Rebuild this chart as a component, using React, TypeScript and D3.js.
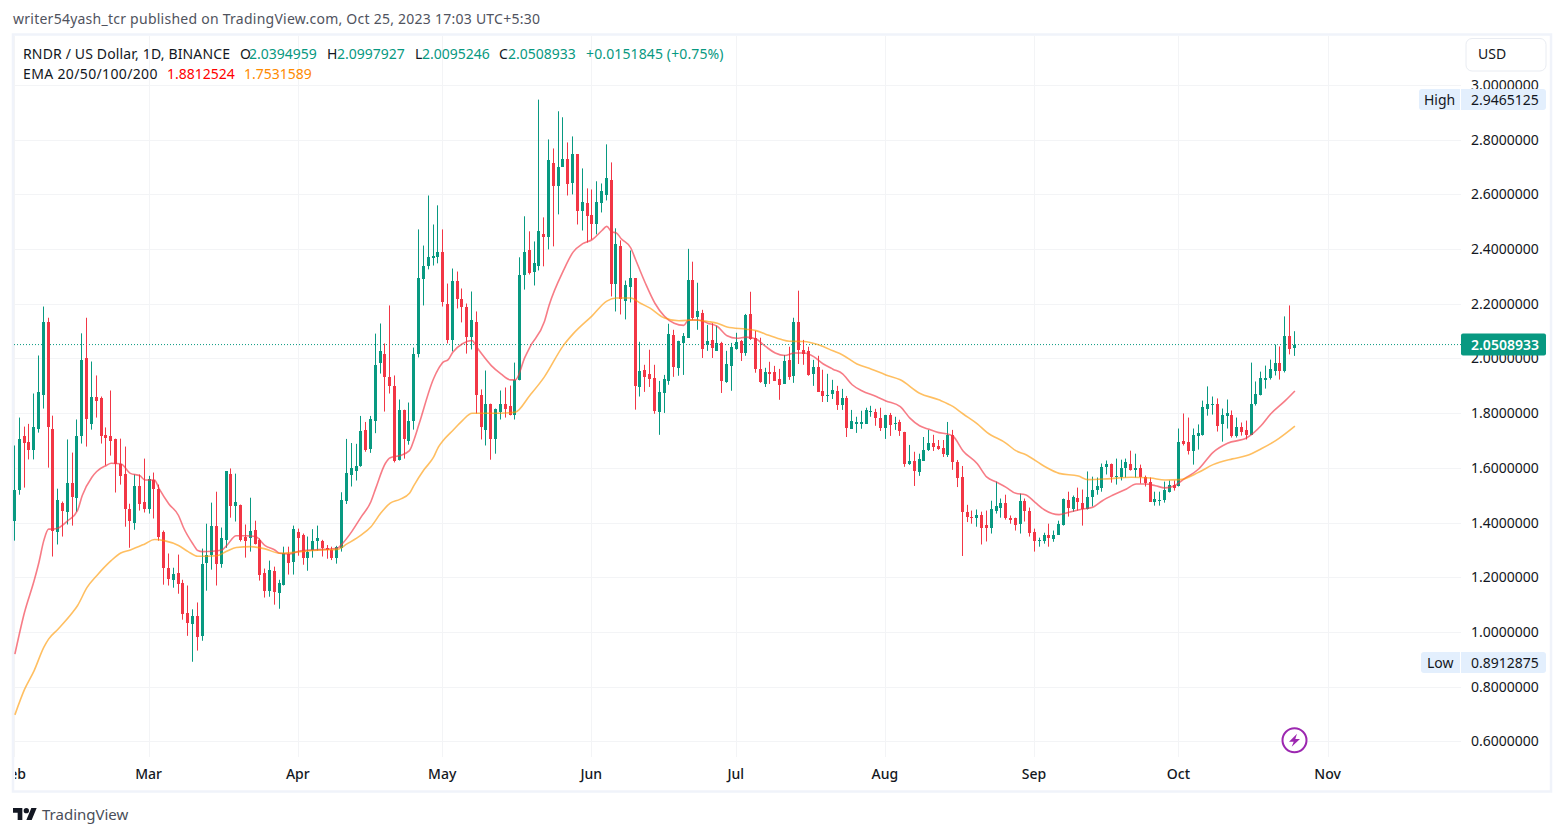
import React, { useEffect, useRef } from 'react';
import * as d3 from 'd3';

const width = 1564;
const height = 836;
const chartLeft = 14;
const chartRight = 1461;
const chartTop = 36;
const chartBottom = 757;
const FONT = '"Noto Sans", sans-serif';
const UP = '#089981';
const DOWN = '#F23645';

const firstDay = Date.UTC(2023, 1, 1);
const dayMs = 86400000;

// one value per daily candle, Feb 1 to Oct 25
const opens = [
  1.407, 1.521, 1.715, 1.696, 1.667, 1.744, 1.868, 2.135, 1.744, 1.367,
  1.473, 1.44, 1.546, 1.491, 1.715, 2.0, 1.759, 1.861, 1.854, 1.722,
  1.715, 1.704, 1.615, 1.576, 1.451, 1.4, 1.532, 1.477, 1.451, 1.554,
  1.524, 1.367, 1.235, 1.191, 1.217, 1.18, 1.071, 1.03, 1.06, 0.987,
  1.254, 1.283, 1.389, 1.25, 1.338, 1.576, 1.462, 1.466, 1.349, 1.342,
  1.374, 1.338, 1.217, 1.151, 1.224, 1.144, 1.173, 1.287, 1.257, 1.367,
  1.353, 1.272, 1.298, 1.331, 1.333, 1.306, 1.301, 1.272, 1.306, 1.479,
  1.574, 1.589, 1.607, 1.739, 1.67, 1.77, 1.982, 2.018, 1.934, 1.901,
  1.63, 1.813, 1.7, 1.77, 2.018, 2.289, 2.34, 2.366, 2.37, 2.391,
  2.201, 2.066, 2.282, 2.216, 2.187, 2.077, 2.132, 1.865, 1.737, 1.832,
  1.704, 1.806, 1.835, 1.828, 1.792, 1.92, 2.304, 2.395, 2.318, 2.34,
  2.457, 2.443, 2.713, 2.629, 2.702, 2.728, 2.64, 2.746, 2.541, 2.567,
  2.523, 2.49, 2.567, 2.596, 2.651, 2.274, 2.413, 2.212, 2.263, 2.293,
  1.895, 1.959, 1.944, 1.929, 1.805, 1.874, 1.918, 2.087, 1.966, 2.057,
  2.076, 2.288, 2.152, 2.167, 2.05, 2.068, 2.028, 2.057, 1.915, 1.973,
  2.035, 2.065, 2.021, 2.163, 2.076, 1.962, 1.907, 1.951, 1.951, 1.926,
  1.907, 1.995, 1.937, 2.134, 2.032, 2.028, 1.944, 1.97, 1.882, 1.863,
  1.871, 1.882, 1.83, 1.856, 1.743, 1.761, 1.761, 1.761, 1.805, 1.805,
  1.783, 1.746, 1.794, 1.761, 1.768, 1.732, 1.615, 1.626, 1.585, 1.626,
  1.666, 1.691, 1.68, 1.673, 1.648, 1.721, 1.622, 1.567, 1.439, 1.422,
  1.418, 1.429, 1.393, 1.382, 1.444, 1.455, 1.473, 1.418, 1.418, 1.396,
  1.48, 1.444, 1.367, 1.334, 1.334, 1.356, 1.341, 1.356, 1.393, 1.484,
  1.448, 1.491, 1.473, 1.448, 1.495, 1.521, 1.528, 1.605, 1.616, 1.565,
  1.568, 1.598, 1.616, 1.594, 1.601, 1.568, 1.55, 1.477, 1.48, 1.484,
  1.513, 1.539, 1.532, 1.7, 1.696, 1.663, 1.718, 1.722, 1.817, 1.832,
  1.832, 1.759, 1.791, 1.795, 1.718, 1.748, 1.737, 1.722, 1.835, 1.868,
  1.923, 1.927, 1.956, 1.982, 1.956, 2.084, 2.0394959,
];

const highs = [
  1.682, 1.784, 1.751, 1.761, 1.872, 2.011, 2.19, 2.149, 1.791, 1.524,
  1.477, 1.704, 1.656, 1.777, 2.092, 2.149, 1.989, 1.938, 1.861, 1.748,
  1.883, 1.707, 1.707, 1.678, 1.469, 1.576, 1.576, 1.634, 1.571, 1.583,
  1.539, 1.371, 1.287, 1.235, 1.283, 1.191, 1.17, 1.083, 1.108, 1.305,
  1.396, 1.473, 1.513, 1.382, 1.587, 1.598, 1.579, 1.466, 1.393, 1.491,
  1.407, 1.342, 1.232, 1.261, 1.239, 1.191, 1.312, 1.312, 1.389, 1.378,
  1.36, 1.349, 1.376, 1.389, 1.337, 1.318, 1.312, 1.315, 1.511, 1.706,
  1.691, 1.688, 1.79, 1.768, 1.79, 2.091, 2.128, 2.055, 2.194, 1.938,
  1.85, 1.813, 1.839, 2.04, 2.472, 2.413, 2.596, 2.49, 2.56, 2.472,
  2.274, 2.329, 2.318, 2.256, 2.201, 2.245, 2.172, 1.887, 1.956, 1.835,
  1.817, 1.883, 1.894, 1.901, 1.985, 2.37, 2.52, 2.465, 2.428, 2.9465125,
  2.516, 2.801, 2.768, 2.904, 2.882, 2.79, 2.812, 2.746, 2.695, 2.622,
  2.618, 2.648, 2.64, 2.783, 2.717, 2.476, 2.432, 2.285, 2.395, 2.293,
  2.061, 1.977, 2.032, 1.977, 1.918, 1.94, 2.127, 2.105, 2.065, 2.093,
  2.401, 2.354, 2.277, 2.178, 2.123, 2.129, 2.12, 2.061, 2.028, 2.057,
  2.094, 2.068, 2.163, 2.244, 2.101, 2.076, 1.966, 1.988, 1.973, 1.962,
  2.013, 2.043, 2.149, 2.248, 2.068, 2.043, 1.995, 2.01, 1.959, 1.944,
  1.922, 1.9, 1.889, 1.863, 1.812, 1.787, 1.809, 1.82, 1.827, 1.816,
  1.82, 1.794, 1.801, 1.787, 1.776, 1.732, 1.684, 1.659, 1.652, 1.713,
  1.739, 1.721, 1.702, 1.702, 1.768, 1.739, 1.629, 1.607, 1.465, 1.444,
  1.448, 1.44, 1.444, 1.48, 1.55, 1.488, 1.502, 1.426, 1.418, 1.506,
  1.488, 1.455, 1.378, 1.345, 1.363, 1.396, 1.371, 1.407, 1.488, 1.513,
  1.499, 1.528, 1.521, 1.587, 1.568, 1.565, 1.616, 1.627, 1.616, 1.634,
  1.63, 1.634, 1.663, 1.652, 1.612, 1.572, 1.565, 1.513, 1.513, 1.55,
  1.554, 1.554, 1.744, 1.799, 1.784, 1.744, 1.759, 1.846, 1.898, 1.861,
  1.854, 1.817, 1.85, 1.81, 1.784, 1.766, 1.773, 1.985, 1.916, 1.952,
  1.974, 1.996, 2.051, 2.044, 2.154, 2.194, 2.0997927,
];

const lows = [
  1.334, 1.502, 1.528, 1.631, 1.631, 1.729, 1.817, 1.601, 1.276, 1.32,
  1.349, 1.393, 1.389, 1.44, 1.689, 1.678, 1.74, 1.784, 1.689, 1.609,
  1.645, 1.51, 1.539, 1.385, 1.308, 1.374, 1.444, 1.437, 1.433, 1.415,
  1.334, 1.173, 1.17, 1.162, 1.14, 1.045, 0.986, 0.8912875, 0.932, 0.968,
  1.151, 1.228, 1.17, 1.235, 1.308, 1.418, 1.404, 1.331, 1.272, 1.294,
  1.32, 1.188, 1.126, 1.129, 1.1, 1.085, 1.17, 1.21, 1.21, 1.279,
  1.246, 1.224, 1.272, 1.298, 1.276, 1.268, 1.263, 1.25, 1.294, 1.468,
  1.532, 1.554, 1.604, 1.659, 1.655, 1.727, 1.945, 1.806, 1.872, 1.62,
  1.627, 1.634, 1.685, 1.74, 2.004, 2.194, 2.326, 2.34, 2.348, 2.19,
  2.055, 2.026, 2.183, 2.132, 2.018, 2.033, 1.799, 1.704, 1.682, 1.63,
  1.652, 1.777, 1.784, 1.792, 1.777, 1.92, 2.252, 2.307, 2.267, 2.322,
  2.337, 2.399, 2.41, 2.527, 2.702, 2.596, 2.6, 2.49, 2.468, 2.424,
  2.435, 2.454, 2.534, 2.578, 2.227, 2.172, 2.161, 2.143, 2.205, 1.813,
  1.861, 1.878, 1.896, 1.798, 1.721, 1.801, 1.904, 1.933, 1.937, 1.94,
  2.076, 2.141, 2.105, 2.002, 2.028, 2.002, 2.028, 1.874, 1.911, 1.882,
  2.032, 1.991, 2.01, 2.068, 1.948, 1.911, 1.896, 1.907, 1.918, 1.849,
  1.907, 1.922, 1.911, 1.98, 1.977, 1.937, 1.9, 1.878, 1.841, 1.841,
  1.852, 1.812, 1.812, 1.713, 1.743, 1.728, 1.743, 1.761, 1.787, 1.754,
  1.735, 1.706, 1.717, 1.739, 1.717, 1.604, 1.611, 1.534, 1.571, 1.626,
  1.662, 1.662, 1.666, 1.64, 1.64, 1.593, 1.53, 1.278, 1.402, 1.396,
  1.385, 1.32, 1.331, 1.36, 1.433, 1.418, 1.411, 1.396, 1.371, 1.36,
  1.404, 1.349, 1.294, 1.312, 1.323, 1.312, 1.33, 1.356, 1.389, 1.422,
  1.44, 1.444, 1.389, 1.448, 1.459, 1.502, 1.513, 1.576, 1.546, 1.539,
  1.554, 1.565, 1.59, 1.565, 1.543, 1.532, 1.477, 1.462, 1.462, 1.473,
  1.51, 1.517, 1.532, 1.682, 1.649, 1.612, 1.667, 1.718, 1.791, 1.795,
  1.733, 1.696, 1.744, 1.711, 1.711, 1.718, 1.704, 1.722, 1.828, 1.865,
  1.89, 1.923, 1.938, 1.923, 1.949, 2.015, 2.0095246,
];

const closes = [
  1.521, 1.704, 1.69, 1.667, 1.751, 1.879, 2.132, 1.751, 1.371, 1.484,
  1.444, 1.543, 1.495, 1.718, 1.996, 1.777, 1.861, 1.843, 1.715, 1.711,
  1.7, 1.615, 1.572, 1.451, 1.407, 1.535, 1.469, 1.448, 1.561, 1.524,
  1.349, 1.235, 1.195, 1.213, 1.177, 1.067, 1.034, 1.06, 0.983, 1.25,
  1.283, 1.389, 1.25, 1.345, 1.587, 1.459, 1.477, 1.338, 1.334, 1.371,
  1.323, 1.21, 1.151, 1.228, 1.147, 1.18, 1.29, 1.254, 1.378, 1.342,
  1.272, 1.294, 1.333, 1.342, 1.306, 1.301, 1.272, 1.311, 1.483, 1.582,
  1.6, 1.607, 1.735, 1.666, 1.779, 1.978, 2.026, 1.934, 1.898, 1.627,
  1.813, 1.707, 1.773, 2.018, 2.296, 2.337, 2.37, 2.373, 2.388, 2.205,
  2.066, 2.282, 2.216, 2.187, 2.08, 2.139, 1.868, 1.748, 1.832, 1.707,
  1.817, 1.835, 1.817, 1.792, 1.923, 2.304, 2.391, 2.311, 2.351, 2.465,
  2.443, 2.724, 2.629, 2.702, 2.728, 2.637, 2.746, 2.541, 2.571, 2.52,
  2.49, 2.571, 2.611, 2.659, 2.274, 2.417, 2.216, 2.267, 2.293, 1.901,
  1.956, 1.933, 1.926, 1.809, 1.878, 1.926, 2.09, 1.97, 2.065, 2.083,
  2.288, 2.149, 2.174, 2.035, 2.065, 2.039, 2.057, 1.918, 1.98, 2.043,
  2.061, 2.021, 2.16, 2.072, 1.962, 1.915, 1.951, 1.944, 1.918, 1.904,
  1.991, 1.933, 2.134, 2.032, 2.017, 1.94, 1.97, 1.878, 1.863, 1.867,
  1.885, 1.83, 1.856, 1.746, 1.772, 1.768, 1.768, 1.812, 1.809, 1.783,
  1.746, 1.794, 1.757, 1.765, 1.735, 1.615, 1.626, 1.589, 1.633, 1.666,
  1.691, 1.677, 1.669, 1.651, 1.721, 1.622, 1.563, 1.439, 1.421, 1.418,
  1.429, 1.382, 1.382, 1.448, 1.462, 1.473, 1.418, 1.411, 1.393, 1.48,
  1.444, 1.363, 1.334, 1.338, 1.356, 1.345, 1.356, 1.396, 1.488, 1.455,
  1.495, 1.477, 1.448, 1.495, 1.521, 1.535, 1.605, 1.616, 1.565, 1.572,
  1.601, 1.623, 1.594, 1.601, 1.565, 1.546, 1.477, 1.488, 1.484, 1.521,
  1.539, 1.528, 1.693, 1.689, 1.663, 1.722, 1.726, 1.821, 1.835, 1.835,
  1.755, 1.795, 1.799, 1.715, 1.751, 1.733, 1.722, 1.835, 1.872, 1.927,
  1.93, 1.96, 1.982, 1.956, 2.084, 2.033, 2.0508933,
];

// EMA lines at these day numbers
const emaRedDays = [
  0, 2, 4, 5, 6, 7, 8, 9, 11, 13, 14, 16, 17, 19, 20, 22, 24, 26, 27, 29, 30, 32, 34, 35, 37, 38, 39, 41, 43, 44,
  46, 48, 50, 52, 54, 55, 57, 59, 62, 64, 67, 68, 70, 72, 74, 75, 77, 78, 80, 82, 83, 84, 87, 88, 89, 90, 91, 93, 95, 96,
  97, 99, 101, 103, 104, 106, 107, 110, 111, 114, 116, 118, 120, 122, 123, 124, 125, 126, 128, 129, 131, 133, 135, 137, 139, 140, 142, 144, 146, 148,
  150, 152, 154, 156, 158, 160, 162, 164, 166, 168, 170, 172, 174, 176, 179, 181, 184, 186, 188, 190, 192, 194, 195, 197, 200, 202, 204, 206, 208, 210,
  212, 214, 217, 219, 222, 224, 226, 228, 231, 233, 235, 237, 239, 241, 243, 246, 249, 252, 256, 259, 261, 264, 266,
];
const emaRedValues = [
  0.919, 1.072, 1.188, 1.255, 1.334, 1.376, 1.376, 1.38, 1.407, 1.444, 1.499, 1.566, 1.587, 1.609, 1.617, 1.615, 1.58, 1.571, 1.556, 1.556, 1.523, 1.468, 1.426, 1.383, 1.322, 1.298, 1.294, 1.295, 1.3, 1.316,
  1.352, 1.352, 1.349, 1.316, 1.3, 1.288, 1.285, 1.295, 1.3, 1.302, 1.306, 1.322, 1.367, 1.422, 1.477, 1.526, 1.617, 1.637, 1.645, 1.663, 1.706, 1.761, 1.926, 1.962, 1.987, 1.995, 2.023, 2.054, 2.066, 2.041,
  2.017, 1.974, 1.944, 1.922, 1.922, 2.005, 2.041, 2.133, 2.194, 2.322, 2.389, 2.42, 2.435, 2.468, 2.483, 2.463, 2.459, 2.438, 2.404, 2.361, 2.276, 2.202, 2.154, 2.129, 2.121, 2.141, 2.141, 2.129, 2.117, 2.083,
  2.074, 2.078, 2.071, 2.044, 2.02, 2.011, 2.02, 2.02, 2.007, 1.98, 1.961, 1.944, 1.904, 1.882, 1.861, 1.845, 1.824, 1.782, 1.754, 1.741, 1.729, 1.723, 1.715, 1.663, 1.615, 1.566, 1.548, 1.529, 1.507, 1.502,
  1.474, 1.446, 1.429, 1.438, 1.45, 1.456, 1.48, 1.499, 1.523, 1.541, 1.541, 1.535, 1.527, 1.535, 1.56, 1.596, 1.657, 1.69, 1.71, 1.755, 1.798, 1.846, 1.8812524,
];

const emaOrangeDays = [
  0, 2, 4, 6, 7, 9, 12, 13, 15, 17, 20, 22, 24, 27, 29, 31, 34, 36, 38, 42, 44, 46, 49, 52, 55, 58, 62, 64, 67, 69,
  72, 74, 76, 78, 80, 82, 83, 85, 87, 88, 89, 91, 93, 95, 97, 101, 104, 107, 110, 114, 116, 120, 123, 125, 128, 130, 132, 135, 138, 141,
  144, 146, 148, 152, 154, 156, 159, 161, 164, 167, 170, 172, 175, 178, 181, 184, 188, 192, 195, 197, 200, 202, 206, 208, 210, 214, 217, 221, 223, 227,
  232, 236, 239, 242, 246, 249, 253, 256, 259, 262, 266,
];
const emaOrangeValues = [
  0.697, 0.79, 0.859, 0.944, 0.974, 1.011, 1.072, 1.096, 1.163, 1.206, 1.261, 1.289, 1.3, 1.322, 1.338, 1.334, 1.316, 1.294, 1.277, 1.279, 1.295, 1.309, 1.312, 1.304, 1.288, 1.291, 1.298, 1.3, 1.302, 1.322,
  1.355, 1.385, 1.434, 1.471, 1.485, 1.507, 1.538, 1.593, 1.639, 1.676, 1.7, 1.737, 1.773, 1.8, 1.8, 1.8, 1.804, 1.865, 1.932, 2.048, 2.09, 2.157, 2.21, 2.221, 2.221, 2.202, 2.184, 2.148, 2.138, 2.141,
  2.135, 2.129, 2.115, 2.107, 2.102, 2.089, 2.071, 2.063, 2.062, 2.05, 2.028, 2.013, 1.98, 1.961, 1.94, 1.922, 1.873, 1.849, 1.824, 1.798, 1.761, 1.73, 1.69, 1.663, 1.649, 1.605, 1.58, 1.57, 1.557, 1.56,
  1.566, 1.563, 1.556, 1.557, 1.584, 1.612, 1.633, 1.645, 1.67, 1.7, 1.7531589,
];

const priceTicks = [3, 2.8, 2.6, 2.4, 2.2, 2, 1.8, 1.6, 1.4, 1.2, 1, 0.8, 0.6];

const lastClose = 2.0508933;
const highLabel = 2.9465125;
const lowLabel = 0.8912875;

const x = d3
  .scaleUtc()
  .domain([new Date(firstDay), new Date(firstDay + 266 * dayMs)])
  .range([14.4, 1294.4]);

const y = d3.scaleLinear().domain([0.6, 3]).range([741.4, 85]);

const monthTicks = d3.utcMonth.range(new Date(firstDay), new Date(Date.UTC(2023, 10, 2)));
const dayX = (i: number) => Math.floor(x(new Date(firstDay + i * dayMs)));
const tickX = (d: Date) => Math.floor(x(d));

const emaPath = (days: number[], values: number[]) =>
  d3
    .line<number>()
    .x((d) => x(new Date(firstDay + d * dayMs)) + 0.5)
    .y((_, i) => y(values[i]))
    .curve(d3.curveMonotoneX)(days) as string;

const Candles = () => (
  <g clipPath="url(#plotClip)">
    {opens.map((open, i) => {
      const close = closes[i];
      const color = close >= open ? UP : DOWN;
      const px = dayX(i);
      const top = Math.round(y(Math.max(open, close)));
      const bottom = Math.round(y(Math.min(open, close)));
      return (
        <g key={i} fill={color}>
          <rect x={px} y={y(highs[i])} width={1} height={y(lows[i]) - y(highs[i])} />
          <rect x={px - 1} y={top} width={3} height={Math.max(bottom - top, 1)} />
        </g>
      );
    })}
  </g>
);

const Badge = ({ label, value, labelX, boxX, top }: { label: string; value: number; labelX: number; boxX: number; top: number }) => (
  <g fontFamily={FONT} fontSize={14} fill="#131722">
    <path d={`M${boxX + 3} ${top}H1460V${top + 21}H${boxX + 3}Q${boxX} ${top + 21} ${boxX} ${top + 18}V${top + 3}Q${boxX} ${top} ${boxX + 3} ${top}Z`} fill="#E3EFFD" />
    <path d={`M1461 ${top}H1543Q1546 ${top} 1546 ${top + 3}V${top + 18}Q1546 ${top + 21} 1543 ${top + 21}H1461Z`} fill="#E3EFFD" />
    <text x={labelX} y={top + 15.5}>{label}</text>
    <text x={1471} y={top + 15.5}>{value.toFixed(7)}</text>
  </g>
);

export default function App() {
  const priceAxisRef = useRef<SVGGElement>(null);
  const timeAxisRef = useRef<SVGGElement>(null);

  useEffect(() => {
    d3.select(priceAxisRef.current)
      .call(
        d3
          .axisRight(y)
          .tickValues(priceTicks)
          .tickSize(0)
          .tickPadding(0)
          .tickFormat((d) => (d as number).toFixed(7)) as any
      )
      .call((g: any) => g.select('.domain').remove())
      .call((g: any) =>
        g
          .selectAll('.tick text')
          .attr('fill', '#131722')
          .attr('font-size', 14)
          .attr('font-family', FONT)
      );

    d3.select(timeAxisRef.current)
      .call(
        d3
          .axisBottom(x)
          .tickValues(monthTicks)
          .tickSize(0)
          .tickPadding(0)
          .tickFormat(d3.utcFormat('%b') as any) as any
      )
      .call((g: any) => g.select('.domain').remove())
      .call((g: any) =>
        g
          .selectAll('.tick text')
          .attr('fill', '#131722')
          .attr('font-size', 14)
          .attr('font-weight', 500)
          .attr('font-family', FONT)
      );
  }, []);

  return (
    <svg
      width={width}
      height={height}
      viewBox={`0 0 ${width} ${height}`}
      style={{ position: 'absolute', left: 0, top: 0, background: '#fff' }}
    >
      <defs>
        <clipPath id="plotClip">
          <rect x={13} y={chartTop} width={chartRight - 13} height={chartBottom - chartTop} />
        </clipPath>
        <clipPath id="timeClip">
          <rect x={15} y={chartBottom} width={1535} height={34} />
        </clipPath>
      </defs>

      <text x={13} y={24} fontFamily={FONT} fontSize={14} fill="#50535E" textLength={527}>
        writer54yash_tcr published on TradingView.com, Oct 25, 2023 17:03 UTC+5:30
      </text>

      <rect x={13} y={34.5} width={1538} height={757} fill="#fff" stroke="#F0F3FA" strokeWidth={2.5} />

      {/* grid */}
      <g stroke="#F3F4F6" strokeWidth={1}>
        {priceTicks.map((t) => (
          <line key={t} x1={chartLeft} x2={chartRight} y1={Math.round(y(t)) + 0.5} y2={Math.round(y(t)) + 0.5} />
        ))}
        {monthTicks.map((d) => (
          <line key={+d} x1={tickX(d) + 0.5} x2={tickX(d) + 0.5} y1={chartTop} y2={chartBottom} />
        ))}
      </g>

      <line
        x1={chartLeft}
        x2={chartRight}
        y1={y(lastClose)}
        y2={y(lastClose)}
        stroke={UP}
        strokeWidth={1}
        strokeDasharray="1 2"
      />

      <Candles />

      <g fill="none" strokeWidth={1.6} clipPath="url(#plotClip)">
        <path d={emaPath(emaRedDays, emaRedValues)} stroke="#F23645" strokeOpacity={0.65} />
        <path d={emaPath(emaOrangeDays, emaOrangeValues)} stroke="#FF9800" strokeOpacity={0.62} />
      </g>

      {/* legend */}
      <g fontFamily={FONT} fontSize={14}>
        <text x={23} y={59} fill="#131722" textLength={207}>RNDR / US Dollar, 1D, BINANCE</text>
        <text x={240} y={59} fill="#131722">O</text>
        <text x={249} y={59} fill={UP}>2.0394959</text>
        <text x={327} y={59} fill="#131722">H</text>
        <text x={337} y={59} fill={UP}>2.0997927</text>
        <text x={415} y={59} fill="#131722">L</text>
        <text x={422} y={59} fill={UP}>2.0095246</text>
        <text x={499} y={59} fill="#131722">C</text>
        <text x={508} y={59} fill={UP}>2.0508933</text>
        <text x={586} y={59} fill={UP} textLength={137.5}>+0.0151845 (+0.75%)</text>
        <text x={23} y={79} fill="#131722" textLength={134.5}>EMA 20/50/100/200</text>
        <text x={167} y={79} fill="#FF0000">1.8812524</text>
        <text x={244} y={79} fill="#FF8A00">1.7531589</text>
      </g>

      {/* price scale */}
      <g ref={priceAxisRef} transform="translate(1471,0)" />
      <Badge label="High" value={highLabel} labelX={1424} boxX={1419} top={89} />
      <Badge label="Low" value={lowLabel} labelX={1427} boxX={1421} top={652} />
      <rect x={1461} y={y(lastClose) - 11} width={85} height={22} rx={2} fill={UP} />
      <text x={1471} y={y(lastClose) + 5} fontFamily={FONT} fontSize={14} fill="#fff" fontWeight={600}>
        {lastClose.toFixed(7)}
      </text>

      <rect x={1466} y={38.5} width={80} height={32.5} rx={6} fill="#fff" stroke="#E9ECF2" strokeWidth={1} />
      <text x={1478} y={59} fontFamily={FONT} fontSize={14} fill="#131722">USD</text>

      {/* time scale */}
      <g clipPath="url(#timeClip)">
        <g ref={timeAxisRef} transform="translate(-1,769)" />
      </g>

      {/* lightning badge */}
      <g transform="translate(1294.5,740.3)">
        <circle r={12} fill="#fff" stroke="#9C27B0" strokeWidth={2} />
        <path d="M2.5 -6.5 L-5.5 1.5 L-0.8 1.5 L-2.8 6.5 L5.5 -1.2 L0.8 -1.2 Z" fill="#9C27B0" />
      </g>

      {/* logo */}
      <g transform="translate(13,805.3) scale(0.667)" fill="#131722">
        <path d="M14 22H7V11H0V4h14v18zM28 22h-8l7.5-18h8L28 22z" />
        <circle cx={20} cy={8} r={4} />
      </g>
      <text x={42} y={820} fontFamily={FONT} fontSize={15} fill="#4A4E59">TradingView</text>
    </svg>
  );
}
